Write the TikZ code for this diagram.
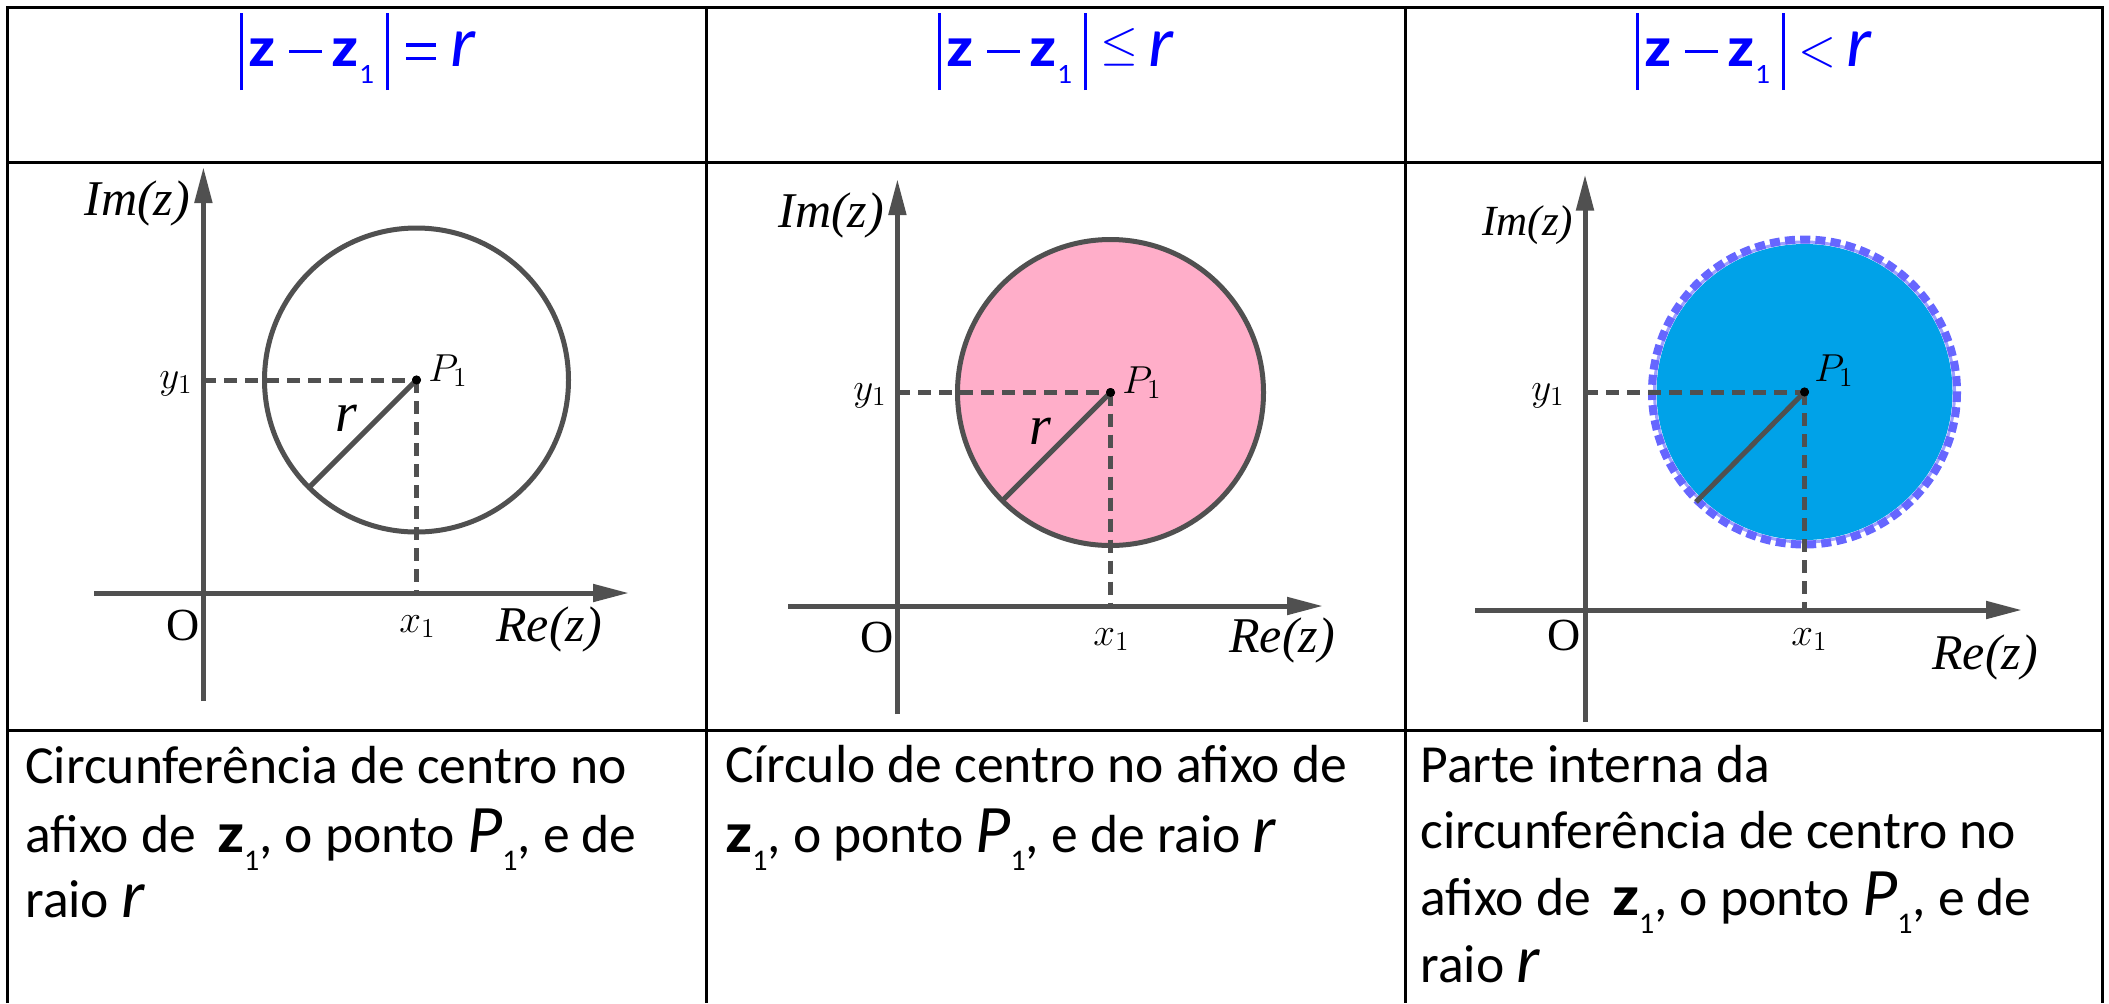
\RequirePackage{fix-cm}
\documentclass[tikz,border=0pt]{standalone}
\usepackage[no-math]{fontspec}
\usepackage{graphicx}
\setmainfont{Carlito}
\newfontfamily\tnrfont{Liberation Serif}
\usetikzlibrary{arrows.meta}
\definecolor{axgray}{RGB}{80,80,80}
\definecolor{rose}{RGB}{255,174,201}
\definecolor{turq}{RGB}{0,162,232}
\definecolor{ringblue}{RGB}{102,102,255}
\definecolor{ringlight}{RGB}{160,160,255}
\definecolor{eqblue}{RGB}{0,0,255}
% piece placed with its centre #1 to the right of the start
\newcommand\mypiece[2]{\makebox[0pt][l]{\hspace{#1}\makebox[0pt][c]{#2}}}
\newcommand\myabsbar{\rule[-11.65bp]{1.4bp}{38.5bp}}
\newcommand\myminus{\rule[6.7bp]{16.4bp}{1.7bp}}
\newcommand\myeqrel{\rule[10bp]{15bp}{1.7bp}\llap{\rule[3.35bp]{15bp}{1.7bp}}}
\newcommand\myzed{\resizebox{13.5bp}{13.8bp}{\bfseries z}}
\newcommand\myhone{\raisebox{-8.3bp}{\resizebox{7.5bp}{9bp}{1}}}
\newcommand\myhr{\resizebox{12.5bp}{17.5bp}{\itshape r}}
\newcommand\myle{\raisebox{3.5bp}{\resizebox{19bp}{15.5bp}{$\leq$}}}
\newcommand\mylt{\resizebox{19bp}{14.5bp}{$<$}}
\newcommand\myhdr[1]{%
  \mypiece{0bp}{\myabsbar}%
  \mypiece{10.5bp}{\myzed}%
  \mypiece{32bp}{\myminus}%
  \mypiece{51.8bp}{\myzed}%
  \mypiece{62.6bp}{\myhone}%
  \mypiece{73bp}{\myabsbar}%
  \mypiece{90bp}{#1}%
  \mypiece{111bp}{\myhr}}
\newcommand\mysubone{\raisebox{-9bp}{\fontsize{15bp}{15bp}\selectfont 1}}
\newcommand\mytz{\myzed\mysubone}
\newcommand\mytP{{\fontsize{34bp}{34bp}\selectfont\itshape P}\mysubone}
\newcommand\mytr{{\fontsize{34bp}{34bp}\selectfont\itshape r}}
\tikzset{
  gridline/.style={line width=1.5bp, black},
  axisline/.style={axgray, line width=2.5bp, -{Triangle[length=18bp,width=8.5bp]}},
  guide/.style={axgray, line width=2.5bp, dash pattern=on 6.5bp off 4bp},
  rim/.style={axgray, line width=2.5bp},
  dot/.style={circle, fill=black, inner sep=0pt, minimum size=4.5bp},
  axlbl/.style={font=\tnrfont\itshape\fontsize{25bp}{25bp}\selectfont, inner sep=0pt, anchor=base west},
  olbl/.style={font=\tnrfont\fontsize{23bp}{23bp}\selectfont, inner sep=0pt, anchor=base west},
  rlbl/.style={font=\tnrfont\itshape\fontsize{28bp}{28bp}\selectfont, inner sep=0pt, anchor=base west},
  mlbl/.style={font=\fontsize{19.5bp}{20bp}\selectfont, inner sep=0pt, anchor=base west},
  body/.style={font=\fontsize{26.8bp}{32bp}\selectfont, inner sep=0pt, anchor=base west},
  eq/.style={text=eqblue, font=\fontsize{31bp}{33bp}\selectfont, inner sep=0pt, anchor=base west}
}
\begin{document}
\begin{tikzpicture}[x=0.5bp, y=-0.5bp]
\useasboundingbox (0,0) rectangle (2109,1003);
\fill[white] (0,0) rectangle (2109,1003);

% header formulas
\node[eq] (h1) at (240,66.7) {\myhdr{\myeqrel}};
\node[eq] (h2) at (938,66.7) {\myhdr{\myle}};
\node[eq] (h3) at (1636,66.7) {\myhdr{\mylt}};

% ---------- panel 1 ----------
\coordinate (a1b) at (203.4,701);
\coordinate (a1t) at (203.4,167);
\coordinate (b1l) at (94,593);
\coordinate (b1r) at (629,593);
\coordinate (y1p) at (203.4,380);
\coordinate (x1p) at (416.5,593);
\coordinate (r1e) at (309,487.5);
\node[dot] (p1) at (416.5,380) {};
\draw[guide] (y1p) -- (p1.center);
\draw[guide] (p1.center) -- (x1p);
\draw[axisline] (a1b) -- (a1t);
\draw[axisline] (b1l) -- (b1r);
\draw[rim] (p1.center) -- (r1e);
\draw[rim] (p1.center) circle[radius=152];
\node[dot] at (p1) {};
\node[axlbl] (im1) at (84,215) {Im(z)};
\node[axlbl] (re1) at (496,641) {Re(z)};
\node[olbl] (o1) at (166,640) {O};
\node[mlbl] (x1l) at (399,632) {$x_1$};
\node[mlbl] (y1l) at (159,388) {$y_1$};
\node[mlbl] (p1l) at (428,381) {$P_1$};
\node[rlbl] (r1l) at (335,431) {r};

% ---------- panel 2 ----------
\coordinate (a2b) at (897.4,714);
\coordinate (a2t) at (897.4,179);
\coordinate (b2l) at (788,606);
\coordinate (b2r) at (1323,606);
\coordinate (y2p) at (897.4,392.5);
\coordinate (x2p) at (1110.5,606);
\coordinate (r2e) at (1003,500);
\fill[rose] (1110.5,392.5) circle[radius=153];
\node[dot] (p2) at (1110.5,392.5) {};
\draw[guide] (y2p) -- (p2.center);
\draw[guide] (p2.center) -- (x2p);
\draw[axisline] (a2b) -- (a2t);
\draw[axisline] (b2l) -- (b2r);
\draw[rim] (p2.center) -- (r2e);
\draw[rim] (p2.center) circle[radius=153];
\node[dot] at (p2) {};
\node[axlbl] (im2) at (778,227) {Im(z)};
\node[axlbl] (re2) at (1229,652) {Re(z)};
\node[olbl] (o2) at (860,652) {O};
\node[mlbl] (x2l) at (1093,645) {$x_1$};
\node[mlbl] (y2l) at (853,400) {$y_1$};
\node[mlbl] (p2l) at (1122,393) {$P_1$};
\node[rlbl] (r2l) at (1029,444) {r};

% ---------- panel 3 ----------
\coordinate (a3b) at (1585,722);
\coordinate (a3t) at (1585,174.5);
\coordinate (b3l) at (1475,610);
\coordinate (b3r) at (2022,610);
\coordinate (y3p) at (1585,392);
\coordinate (x3p) at (1804.5,610);
\coordinate (r3e) at (1696,502);
\fill[turq] (1804.5,392) circle[radius=148];
\draw[ringlight, line width=1.5bp] (1804.5,392) circle[radius=150];
\draw[ringblue, line width=4bp, dash pattern=on 5bp off 2.6bp] (1804.5,392) circle[radius=152.5];
\node[dot] (p3) at (1804.5,392) {};
\draw[guide] (y3p) -- (p3.center);
\draw[guide] (p3.center) -- (x3p);
\draw[axisline] (a3b) -- (a3t);
\draw[axisline] (b3l) -- (b3r);
\draw[rim] (p3.center) -- (r3e);
\node[dot] at (p3) {};
\node[axlbl, font=\tnrfont\itshape\fontsize{21.5bp}{22bp}\selectfont] (im3) at (1482,235) {Im(z)};
\node[axlbl] (re3) at (1932,669) {Re(z)};
\node[olbl] (o3) at (1547,650) {O};
\node[mlbl] (x3l) at (1791,645) {$x_1$};
\node[mlbl] (y3l) at (1531,400) {$y_1$};
\node[mlbl] (p3l) at (1814,381) {$P_1$};

% ---------- body text ----------
\node[body] (t11) at (25,783) {Circunferência de centro no};
\node[body] (t12) at (25,852) {afixo de\, \mytz, o ponto \mytP, e de};
\node[body] (t13) at (25,917) {raio \mytr};
\node[body] (t21) at (725,782) {Círculo de centro no afixo de};
\node[body] (t22) at (725,852) {\mytz, o ponto \mytP, e de raio \mytr};
\node[body] (t31) at (1420,782) {Parte interna da};
\node[body] (t32) at (1420,848) {circunferência de centro no};
\node[body] (t33) at (1420,915) {afixo de\, \mytz, o ponto \mytP, e de};
\node[body] (t34) at (1420,982) {raio \mytr};

% ---------- grid ----------
\draw[gridline] (7,1003) -- (7,7) -- (2102,7) -- (2102,1003);
\draw[gridline] (706,7) -- (706,1003);
\draw[gridline] (1405,7) -- (1405,1003);
\draw[gridline] (7,162.7) -- (2102,162.7);
\draw[gridline] (7,730) -- (2102,730);
\end{tikzpicture}
\end{document}
